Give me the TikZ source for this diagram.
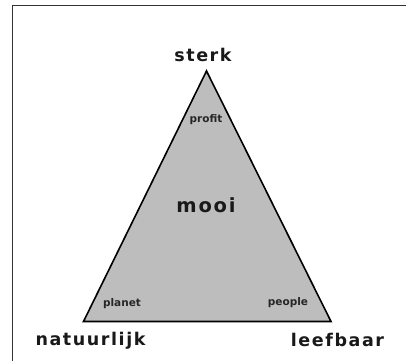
\documentclass[tikz,border=0pt]{standalone}
\usepackage{fontspec}
\setmainfont{DejaVu Sans}
\newfontfamily\bigfont[LetterSpace=9]{DejaVu Sans Bold}
\newfontfamily\smallfont{DejaVu Sans Bold}
\begin{document}
\begin{tikzpicture}[x=1pt,y=-1pt,
  bigtext/.style={font=\bigfont\fontsize{17.5}{20}\selectfont, inner sep=0pt, text=black!90},
  smalltext/.style={font=\smallfont\fontsize{10.5}{12}\selectfont, inner sep=0pt, text=black!85},
  tri/.style={draw=black, line width=1.6pt, fill=black!26, line join=miter}]
\useasboundingbox (0,0) rectangle (406,361);
\fill[white] (0,0) rectangle (406,361);
\draw[black!80, line width=1pt] (12,361) -- (12,6) -- (406,6);
\coordinate (top) at (206.5,71);
\coordinate (bl) at (83.5,321.5);
\coordinate (br) at (331,321.5);
\draw[tri] (top) -- (bl) -- (br) -- cycle;
\node[bigtext] (sterk) at (203,55) {sterk};
\node[bigtext, font=\bigfont\fontsize{19.5}{22}\selectfont] (mooi) at (206,205) {mooi};
\node[bigtext] (nat) at (90.5,341) {natuurlijk};
\node[bigtext] (leef) at (337.5,340) {leefbaar};
\node[smalltext] (profit) at (206,120) {profit};
\node[smalltext] (planet) at (122,304) {planet};
\node[smalltext] (people) at (288,302.5) {people};
\end{tikzpicture}
\end{document}
